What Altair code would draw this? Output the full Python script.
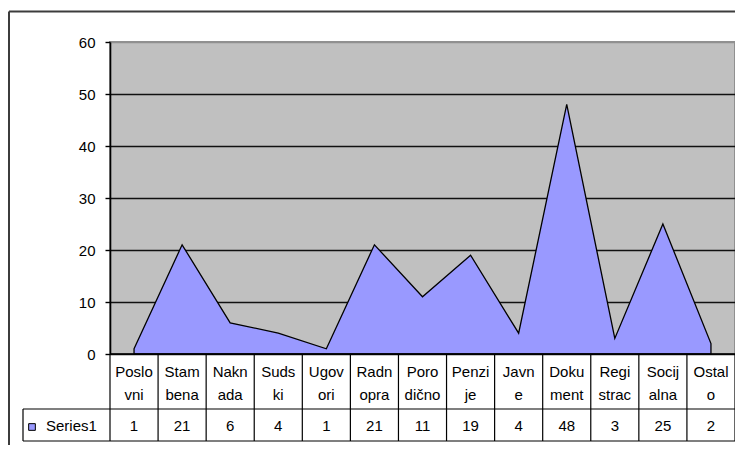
import altair as alt
import pandas as pd

# ---- data ----
categories = ["Poslovni", "Stambena", "Naknada", "Sudski", "Ugovori", "Radnopra",
              "Porodično", "Penzije", "Javne", "Dokument", "Registrac", "Socijalna", "Ostalo"]
label_line1 = ["Poslo", "Stam", "Nakn", "Suds", "Ugov", "Radn", "Poro", "Penzi",
               "Javn", "Doku", "Regi", "Socij", "Ostal"]
label_line2 = ["vni", "bena", "ada", "ki", "ori", "opra", "dično", "je",
               "e", "ment", "strac", "alna", "o"]
values = [1, 21, 6, 4, 1, 21, 11, 19, 4, 48, 3, 25, 2]
series_name = "Series1"
y_ticks = [0, 10, 20, 30, 40, 50, 60]

FONT = "Liberation Sans"
FS = 15
W, H = 625, 312
ROW1 = 55   # category row height
ROW2 = 32   # value row height
LEG_X = -87

n = len(categories)
df = pd.DataFrame({
    "idx": list(range(n)),
    "cat": categories,
    "l1": label_line1,
    "l2": label_line2,
    "value": values,
})
bounds = pd.DataFrame({"b": [i - 0.5 for i in range(n + 1)]})
one = pd.DataFrame({"a": [0]})

xs = alt.Scale(domain=[-0.5, n - 0.5], nice=False, zero=False)

area = alt.Chart(df).mark_area(
    color="#9999FF", stroke="black", strokeWidth=1.3, opacity=1
).encode(
    x=alt.X("idx:Q", scale=xs, axis=None),
    y=alt.Y("value:Q", scale=alt.Scale(domain=[0, 60], nice=False),
            axis=alt.Axis(values=y_ticks, title=None, grid=True,
                          gridColor=alt.condition("datum.value === 60",
                                                  alt.value("#909090"),
                                                  alt.value("#111111")),
                          gridWidth=1.6,
                          domainColor="black", domainWidth=1.6,
                          tickColor="black", tickSize=5, tickWidth=1.4,
                          labelPadding=10, labelFont=FONT, labelFontSize=FS,
                          labelColor="black")),
)

vlines = alt.Chart(bounds).mark_rule(color="black", strokeWidth=1.2).encode(
    x=alt.X("b:Q", scale=xs, axis=None),
    y=alt.value(H), y2=alt.value(H + ROW1 + ROW2),
)

hline_top = alt.Chart(one).mark_rule(color="black", strokeWidth=1.6).encode(
    x=alt.value(0), x2=alt.value(W), y=alt.value(H))
hline_mid = alt.Chart(one).mark_rule(color="black", strokeWidth=1.2).encode(
    x=alt.value(LEG_X), x2=alt.value(W), y=alt.value(H + ROW1))
hline_bot = alt.Chart(one).mark_rule(color="black", strokeWidth=1.2).encode(
    x=alt.value(LEG_X), x2=alt.value(W), y=alt.value(H + ROW1 + ROW2))
leg_left = alt.Chart(one).mark_rule(color="black", strokeWidth=1.2).encode(
    x=alt.value(LEG_X), y=alt.value(H + ROW1), y2=alt.value(H + ROW1 + ROW2))

txt = dict(font=FONT, fontSize=FS, color="black", baseline="middle", align="center")
t1 = alt.Chart(df).mark_text(**txt).encode(
    x=alt.X("idx:Q", scale=xs, axis=None), y=alt.value(H + 18), text="l1:N")
t2 = alt.Chart(df).mark_text(**txt).encode(
    x=alt.X("idx:Q", scale=xs, axis=None), y=alt.value(H + 41), text="l2:N")
tv = alt.Chart(df).mark_text(**txt).encode(
    x=alt.X("idx:Q", scale=xs, axis=None), y=alt.value(H + ROW1 + 17), text="value:Q")

leg_sym = alt.Chart(one).mark_square(
    size=45, color="#9999FF", stroke="black", strokeWidth=1, opacity=1
).encode(x=alt.value(-78), y=alt.value(H + ROW1 + 18))
leg_txt = alt.Chart(pd.DataFrame({"s": [series_name]})).mark_text(
    font=FONT, fontSize=FS, color="black", baseline="middle", align="left"
).encode(x=alt.value(-64), y=alt.value(H + ROW1 + 17), text="s:N")

border_top = alt.Chart(one).mark_rule(color="#3c3c3c", strokeWidth=2).encode(
    x=alt.value(-101), x2=alt.value(W + 20), y=alt.value(-30.5))
border_left = alt.Chart(one).mark_rule(color="#3c3c3c", strokeWidth=2).encode(
    x=alt.value(-101), y=alt.value(-30.5), y2=alt.value(H + 120))

chart = alt.layer(
    area, vlines, hline_top, hline_mid, hline_bot, leg_left,
    t1, t2, tv, leg_sym, leg_txt, border_top, border_left
).properties(
    width=W, height=H,
    autosize=alt.AutoSizeParams(type="none"),
    padding={"left": 102, "top": 34, "right": 0, "bottom": 91},
    background="white",
).configure_view(
    fill="#C0C0C0", stroke="#909090", strokeWidth=2
)

chart.save("out.html", embed_options={"renderer": "svg", "actions": False})
